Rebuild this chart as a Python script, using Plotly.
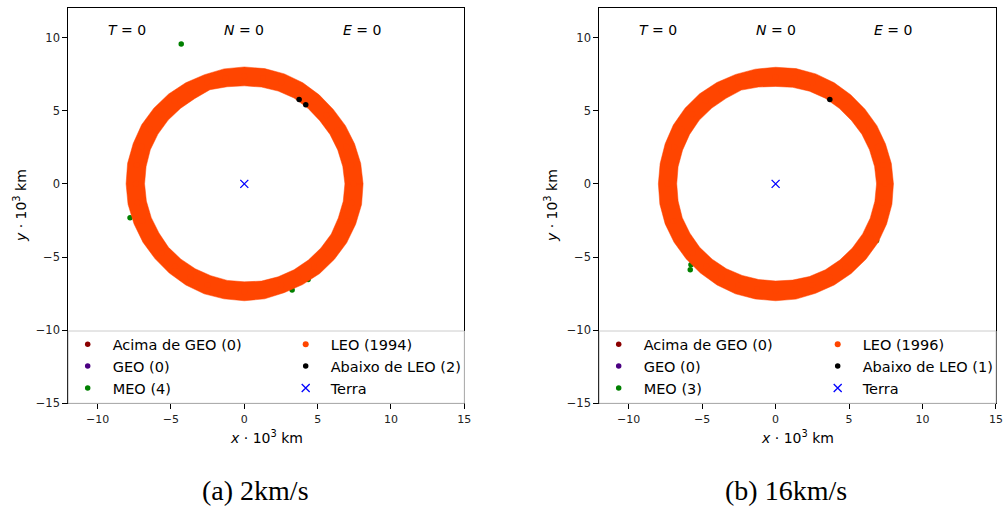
import numpy as np
import plotly.graph_objects as go

W, H = 1003, 507

# ---------------- data (units: 10^3 km) ----------------
ANGLES_DEG = [0, 10, 20, 30, 40, 50, 60, 70, 80, 90, 100, 110,
              120, 130, 140, 150, 160, 170, 180, 190, 200, 210, 220, 230,
              240, 250, 260, 270, 280, 290, 300, 310, 320, 330, 340, 350]

# LEO debris cloud (panel a): outer / inner edge radius and a typical radius of the points
A_LEO_OUTER = [8.10, 8.06, 8.00, 7.96, 7.92, 7.94, 7.98, 8.00, 8.00, 7.99, 7.98, 7.94,
               7.98, 8.02, 8.05, 8.08, 8.06, 8.08, 8.06, 8.05, 8.00, 7.98, 7.95, 7.96,
               7.98, 8.00, 7.98, 7.99, 7.98, 7.92, 7.95, 8.00, 8.02, 8.06, 8.08, 8.12]
A_LEO_INNER = [6.86, 6.82, 6.78, 6.75, 6.72, 6.75, 6.78, 6.75, 6.72, 6.70, 6.74, 6.85,
               6.74, 6.75, 6.78, 6.80, 6.82, 6.80, 6.80, 6.78, 6.75, 6.72, 6.75, 6.72,
               6.70, 6.68, 6.70, 6.70, 6.75, 6.76, 6.78, 6.80, 6.82, 6.85, 6.82, 6.85]
A_LEO_MID = [7.45, 7.40, 7.40, 7.35, 7.30, 7.35, 7.40, 7.40, 7.35, 7.35, 7.35, 7.40,
             7.35, 7.40, 7.40, 7.45, 7.45, 7.45, 7.40, 7.40, 7.40, 7.35, 7.35, 7.35,
             7.35, 7.35, 7.35, 7.35, 7.35, 7.35, 7.35, 7.40, 7.40, 7.45, 7.45, 7.45]

# LEO debris cloud (panel b)
B_LEO_OUTER = [8.02, 8.00, 7.96, 7.96, 7.94, 7.95, 7.98, 8.00, 8.00, 7.97, 7.96, 7.96,
               8.00, 8.04, 8.05, 8.04, 8.00, 7.98, 7.98, 8.00, 8.00, 7.98, 7.96, 7.96,
               7.98, 8.00, 7.99, 7.99, 8.00, 7.96, 7.98, 8.00, 8.02, 8.04, 8.04, 8.04]
B_LEO_INNER = [6.87, 6.84, 6.80, 6.78, 6.74, 6.74, 6.76, 6.74, 6.70, 6.66, 6.72, 6.82,
               6.75, 6.76, 6.78, 6.76, 6.74, 6.74, 6.73, 6.74, 6.76, 6.74, 6.75, 6.72,
               6.70, 6.66, 6.64, 6.64, 6.68, 6.74, 6.78, 6.80, 6.82, 6.84, 6.85, 6.86]
B_LEO_MID = [7.45, 7.40, 7.40, 7.35, 7.35, 7.35, 7.35, 7.35, 7.35, 7.30, 7.35, 7.40,
             7.35, 7.40, 7.40, 7.40, 7.35, 7.35, 7.35, 7.35, 7.40, 7.35, 7.35, 7.35,
             7.35, 7.35, 7.30, 7.30, 7.35, 7.35, 7.40, 7.40, 7.40, 7.45, 7.45, 7.45]

A_MEO_X = [-4.30, -7.79, 3.26, 4.35]
A_MEO_Y = [9.56, -2.31, -7.26, -6.53]
A_BELOW_X = [3.74, 4.19]
A_BELOW_Y = [5.77, 5.41]

B_MEO_X = [6.87, -5.76, -5.81]
B_MEO_Y = [-3.88, -5.53, -5.87]
B_BELOW_X = [3.69]
B_BELOW_Y = [5.77]

EARTH_X = [0.0]
EARTH_Y = [0.0]
EMPTY = [None]   # categories with zero objects

A_LABELS = ["Acima de GEO (0)", "GEO (0)", "MEO (4)", "LEO (1994)", "Abaixo de LEO (2)", "Terra"]
B_LABELS = ["Acima de GEO (0)", "GEO (0)", "MEO (3)", "LEO (1996)", "Abaixo de LEO (1)", "Terra"]
CAPTIONS = ["(a) 2km/s", "(b) 16km/s"]
TICKS = [-15, -10, -5, 0, 5, 10, 15]
STATE_TEXT = ["<i>T</i> = 0", "<i>N</i> = 0", "<i>E</i> = 0"]
STATE_X = [-8, 0, 8]

# ---------------- styling ----------------
C_ABOVE = "#8B0000"
C_GEO = "#4B0082"
C_MEO = "#008000"
C_LEO = "#FF4500"
C_BELOW = "#000000"
C_EARTH = "#0000FF"
FONT = "DejaVu Sans"

def px_x(p):
    return p / W

def px_y(p):
    return 1 - p / H

def polar(rs, angs):
    a = np.radians(np.array(angs, dtype=float))
    r = np.array(rs, dtype=float)
    return r * np.cos(a), r * np.sin(a)

fig = go.Figure()

panels = [
    dict(xa="x", ya="y", outer=A_LEO_OUTER, inner=A_LEO_INNER, mid=A_LEO_MID,
         meo=(A_MEO_X, A_MEO_Y), below=(A_BELOW_X, A_BELOW_Y), labels=A_LABELS,
         legs=("legend", "legend2")),
    dict(xa="x2", ya="y2", outer=B_LEO_OUTER, inner=B_LEO_INNER, mid=B_LEO_MID,
         meo=(B_MEO_X, B_MEO_Y), below=(B_BELOW_X, B_BELOW_Y), labels=B_LABELS,
         legs=("legend3", "legend4")),
]

for p in panels:
    xa, ya = p["xa"], p["ya"]
    l1, l2 = p["legs"]
    labels = p["labels"]
    mk = dict(size=5.5, line=dict(width=0))
    fig.add_trace(go.Scatter(x=EMPTY, y=EMPTY, mode="markers", name=labels[0], xaxis=xa, yaxis=ya,
                             marker=dict(color=C_ABOVE, **mk), legend=l1, legendrank=1))
    fig.add_trace(go.Scatter(x=EMPTY, y=EMPTY, mode="markers", name=labels[1], xaxis=xa, yaxis=ya,
                             marker=dict(color=C_GEO, **mk), legend=l1, legendrank=2))
    fig.add_trace(go.Scatter(x=p["meo"][0], y=p["meo"][1], mode="markers", name=labels[2],
                             xaxis=xa, yaxis=ya, marker=dict(color=C_MEO, **mk),
                             legend=l1, legendrank=3))
    # LEO cloud body (band between the outer and inner edges)
    ox, oy = polar(p["outer"] + p["outer"][:1], ANGLES_DEG + [360])
    ix, iy = polar((p["inner"] + p["inner"][:1])[::-1], (ANGLES_DEG + [360])[::-1])
    fig.add_trace(go.Scatter(x=np.concatenate([ox, ix]), y=np.concatenate([oy, iy]),
                             mode="lines", fill="toself", fillcolor=C_LEO,
                             line=dict(color=C_LEO, width=0.5),
                             showlegend=False, hoverinfo="skip", xaxis=xa, yaxis=ya))
    # LEO points
    mx, my = polar(p["mid"], ANGLES_DEG)
    fig.add_trace(go.Scatter(x=mx, y=my, mode="markers", name=labels[3], xaxis=xa, yaxis=ya,
                             marker=dict(color=C_LEO, size=6, line=dict(width=0)),
                             legend=l2, legendrank=1))
    fig.add_trace(go.Scatter(x=p["below"][0], y=p["below"][1], mode="markers", name=labels[4],
                             xaxis=xa, yaxis=ya, marker=dict(color=C_BELOW, **mk),
                             legend=l2, legendrank=2))
    fig.add_trace(go.Scatter(x=EARTH_X, y=EARTH_Y, mode="markers", name=labels[5],
                             xaxis=xa, yaxis=ya,
                             marker=dict(symbol="x-thin", size=8, color=C_EARTH,
                                         line=dict(color=C_EARTH, width=1.3)),
                             legend=l2, legendrank=3))

axis_common = dict(showgrid=False, zeroline=False, showline=True, mirror=True,
                   linecolor="#000", linewidth=1, ticks="outside", ticklen=5, tickwidth=1,
                   tickcolor="#000", tickmode="array", tickvals=TICKS, automargin=False,
                   ticklabeloverflow="allow", ticklabelposition="outside",
                   tickfont=dict(family=FONT, size=11.5, color="#222"))
x_common = dict(axis_common, tickfont=dict(family=FONT, size=11, color="#222"))

Y0, Y1 = px_y(403.3), px_y(8.3)
AX_L = [(68.3, 464.3), (599.3, 996.0)]

layout = dict(
    width=W, height=H, margin=dict(l=0, r=0, t=0, b=0, pad=0),
    paper_bgcolor="white", plot_bgcolor="white",
    font=dict(family=FONT, color="#000"),
    xaxis=dict(domain=[px_x(AX_L[0][0]), px_x(AX_L[0][1])], anchor="y", range=[-12, 15.0005], **x_common),
    yaxis=dict(domain=[Y0, Y1], anchor="x", range=[-15, 12], **axis_common),
    xaxis2=dict(domain=[px_x(AX_L[1][0]), px_x(AX_L[1][1])], anchor="y2", range=[-12, 15.0005], **x_common),
    yaxis2=dict(domain=[Y0, Y1], anchor="x2", range=[-15, 12], **axis_common),
)

leg_common = dict(bgcolor="rgba(0,0,0,0)", borderwidth=0, itemwidth=40,
                  font=dict(family=FONT, size=14.5, color="#000"),
                  xanchor="left", yanchor="top", y=px_y(328.3), tracegroupgap=0,
                  itemclick=False, itemdoubleclick=False)
layout["legend"] = dict(x=px_x(62.7), **leg_common)
layout["legend2"] = dict(x=px_x(280.7), **leg_common)
layout["legend3"] = dict(x=px_x(593.7), **leg_common)
layout["legend4"] = dict(x=px_x(812.7), **leg_common)

shapes = []
for (a, b) in AX_L:
    shapes.append(dict(type="rect", xref="paper", yref="paper",
                       x0=px_x(a), x1=px_x(b), y0=px_y(403.3), y1=px_y(331),
                       fillcolor="rgba(255,255,255,0.8)", line=dict(color="#cccccc", width=1),
                       layer="above"))
layout["shapes"] = shapes

ann = []
for k, (xa, ya) in enumerate([("x", "y"), ("x2", "y2")]):
    for t, xv in zip(STATE_TEXT, STATE_X):
        ann.append(dict(text=t, x=xv, y=10.55, xref=xa, yref=ya, showarrow=False,
                        font=dict(family=FONT, size=14, color="#000")))
    a, b = AX_L[k]
    ann.append(dict(text="<i>x</i> · 10<sup>3</sup> km", x=px_x((a + b) / 2), y=px_y(437),
                    xref="paper", yref="paper", showarrow=False, xanchor="center",
                    yanchor="middle", font=dict(family=FONT, size=14, color="#000")))
    ann.append(dict(text="<i>y</i> · 10<sup>3</sup> km", x=px_x(a - 48), y=px_y(205.8),
                    xref="paper", yref="paper", showarrow=False, textangle=-90,
                    xanchor="center", yanchor="middle",
                    font=dict(family=FONT, size=14, color="#000")))
for cap, cx in zip(CAPTIONS, [255, 786]):
    ann.append(dict(text=cap, x=px_x(cx), y=px_y(490), xref="paper", yref="paper",
                    showarrow=False, xanchor="center", yanchor="middle",
                    font=dict(family="Liberation Serif", size=28, color="#000")))
layout["annotations"] = ann

fig.update_layout(**layout)
fig.write_html("out.html")
